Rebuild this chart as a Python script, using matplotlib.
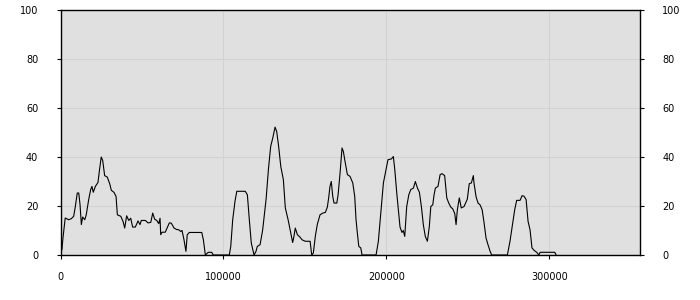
import matplotlib
matplotlib.use("Agg")
import matplotlib.pyplot as plt

# positions along the x axis (in thousands) and values
pos_k = [0.9, 1.5, 2.9, 5.0, 6.6, 8.1, 9.1, 10.3, 11.2, 12.0, 12.8, 13.6, 14.9, 15.8,
         17.3, 18.5, 19.3, 20.1, 21.4, 23.0, 23.8, 25.0, 25.9, 27.1, 28.7, 30.2, 31.2,
         32.8, 34.1, 34.9, 37.0, 38.4, 39.4, 40.6, 41.9, 43.1, 44.3, 45.9, 47.6, 48.8,
         49.6, 52.1, 53.7, 55.4, 56.6, 57.8, 59.1, 60.3, 61.1, 61.5, 62.3, 64.3,
         66.8, 68.0, 69.7, 71.3, 72.6, 73.8, 74.6, 75.8, 77.0, 77.8, 79.1, 86.7, 87.7,
         88.9, 90.7, 92.8, 93.8, 103.6, 104.5, 105.7, 107.1, 108.2, 113.4, 114.7, 115.9,
         117.1, 118.8, 120.0, 120.8, 122.5, 124.1, 125.7, 126.2, 127.6, 129.0, 130.3,
         131.7, 132.7, 133.9, 135.2, 136.8, 138.0, 139.7, 141.3, 142.5, 143.3, 144.1,
         145.4, 147.0, 148.3, 150.3, 153.2, 154.2, 155.2, 156.4, 157.6, 159.3, 161.0,
         162.6, 163.8, 164.6, 165.4, 166.2, 167.1, 167.9, 169.6, 170.4, 171.6, 172.8,
         173.6, 174.8, 176.1, 177.7, 179.4, 180.6, 181.4, 182.2, 183.1, 184.3, 185.1,
         193.7, 195.1, 196.6, 198.2, 199.8, 201.0, 203.1, 204.3, 205.2, 206.4, 207.6,
         208.4, 209.6, 210.4, 211.3, 212.5, 213.8, 215.0, 216.6, 217.8, 219.1, 220.3,
         221.5, 222.7, 223.9, 225.2, 226.4, 227.3, 228.5, 229.3, 230.1, 231.7, 233.0,
         234.2, 235.8, 237.1, 238.3, 239.5, 240.8, 242.0, 242.8, 243.6, 244.8, 246.0,
         247.7, 249.7, 250.9, 252.2, 253.4, 253.8, 255.1, 256.3, 257.5, 258.8, 260.0,
         261.2, 262.4, 263.7, 264.7, 274.3, 275.9, 277.6, 278.8, 280.0, 282.1, 283.3,
         284.5, 285.8, 287.0, 288.2, 289.4, 290.7, 292.3, 293.6, 294.4, 303.4, 304.2]
values = [2.2, 6.9, 15.1, 14.4, 14.8, 15.8, 19.8, 25.3, 25.3, 20.5, 12.4, 15.5, 14.4, 16.4,
          22.6, 26.7, 28.0, 25.6, 28.0, 29.6, 34.0, 40.0, 38.6, 32.4, 31.8, 29.1, 26.4,
          25.6, 23.9, 16.4, 15.8, 13.7, 11.0, 16.0, 14.1, 15.0, 11.4, 11.4, 13.9, 12.4,
          14.1, 14.1, 13.1, 13.3, 17.1, 14.6, 14.1, 12.8, 15.0, 8.3, 9.3, 9.3,
          13.1, 13.0, 11.0, 10.4, 10.3, 9.6, 10.0, 6.2, 1.5, 8.3, 9.2, 9.2, 6.2,
          0.0, 1.1, 1.1, 0.0, 0.0, 3.5, 14.4, 21.9, 26.0, 26.0, 24.6, 14.4,
          4.9, 0.0, 1.5, 3.5, 4.2, 10.3, 19.8, 22.8, 34.8, 44.3, 47.8,
          52.2, 50.4, 44.3, 36.2, 30.7, 19.2, 14.4, 9.0, 5.1, 7.6, 11.0,
          8.3, 7.3, 6.2, 5.6, 5.6, 0.0, 0.8, 7.6, 12.4, 16.4, 17.1,
          17.4, 19.6, 23.3, 28.0, 30.0, 23.9, 21.2, 21.2, 24.6, 33.5, 43.7,
          42.3, 37.6, 32.8, 32.1, 29.4, 23.9, 14.4, 9.0, 3.5, 2.9, 0.0,
          0.0, 5.6, 17.1, 29.4, 34.8, 38.9, 39.2, 40.2, 34.8, 25.3, 17.1,
          11.4, 9.2, 10.0, 7.6, 19.8, 24.6, 26.7, 27.3, 30.0, 27.3, 25.6,
          19.8, 12.4, 7.6, 5.6, 11.7, 19.8, 20.5, 24.6, 27.3, 28.0, 32.8,
          33.2, 32.4, 23.3, 21.2, 19.6, 18.8, 16.9, 12.4, 18.5, 23.3, 19.2,
          19.8, 22.8, 29.1, 29.4, 32.4, 29.4, 23.7, 21.2, 20.5, 18.5, 13.1,
          6.9, 4.2, 1.5, 0.0, 0.0, 5.6, 13.1, 18.5, 22.3, 22.3, 24.2,
          24.0, 22.6, 13.7, 10.3, 2.9, 1.9, 1.1, 0.0, 1.1, 1.1, 0.0]

x_ticks = [0, 100000, 200000, 300000]
y_ticks = [0, 20, 40, 60, 80, 100]

x_vals = [p * 1000 for p in pos_k]

fig = plt.figure(figsize=(7, 3), dpi=100)
ax = fig.add_axes([60.5 / 700, 45 / 300, 579.5 / 700, 245 / 300])
ax.set_facecolor('#e0e0e0')

ax.plot(x_vals, values, color='black', linewidth=0.8)

ax.set_xlim(0, 355700)
ax.set_ylim(0, 100)
ax.set_xticks(x_ticks)
ax.set_xticklabels([str(t) for t in x_ticks])
ax.set_yticks(y_ticks)
ax.grid(True, color='#d2d2d2', linewidth=0.75)
ax.set_axisbelow(True)

for side in ['left', 'right', 'top', 'bottom']:
    ax.spines[side].set_color('black')
    ax.spines[side].set_linewidth(1.0)

ax.tick_params(axis='y', which='both', left=True, right=True, labelleft=True,
               labelright=True, length=3, direction='out', labelsize=7, pad=13)
ax.tick_params(axis='x', length=3, direction='out', labelsize=7, pad=9)

plt.savefig('out.png', dpi=100)
